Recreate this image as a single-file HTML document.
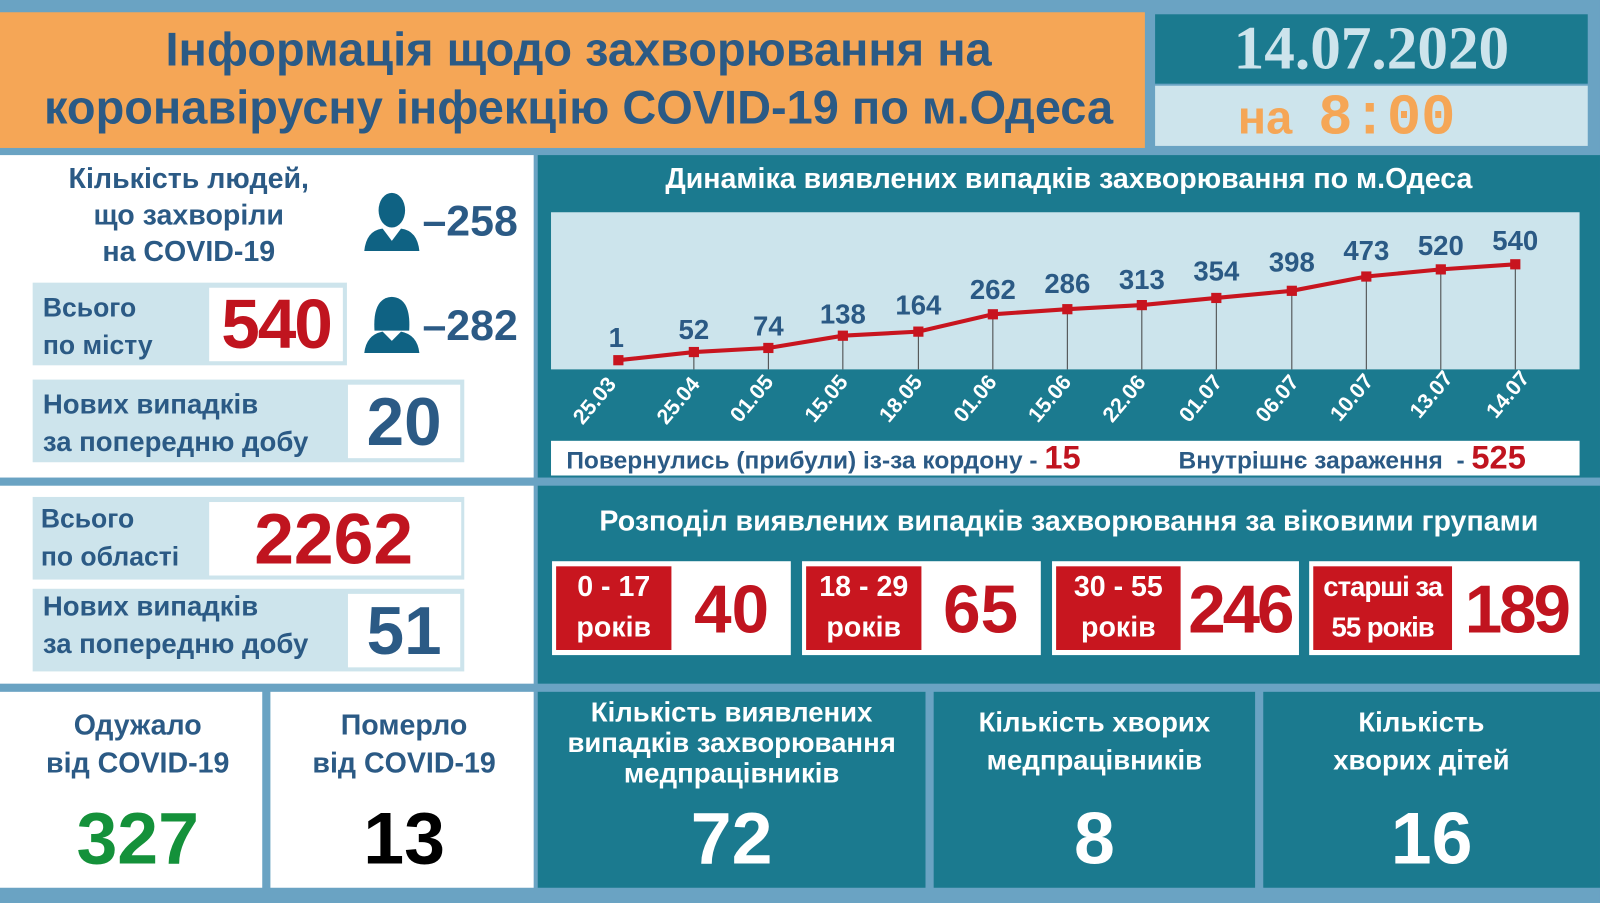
<!DOCTYPE html>
<html><head><meta charset="utf-8"><style>
html,body{margin:0;padding:0;width:1600px;height:903px;overflow:hidden;background:#6aa3c3}
#w{position:absolute;left:0;top:0;width:1568px;height:885px;transform:scale(1.0204);transform-origin:0 0;background:#6aa3c3;font-family:"Liberation Sans",sans-serif;font-weight:bold}
.a{position:absolute}
.c{text-align:center}
.dk{color:#2b5a85}
.wh{color:#fff}
.red{color:#c0141f}
.lb{background:#cde4ec}
.w{background:#fff}
.t{background:#1b7a8f}
</style></head><body><div id="w">
<div class="a" style="left:0;top:12px;width:1122px;height:133px;background:#f5a656"></div>
<div class="a c dk" style="left:0;top:20px;width:1134px;font-size:46px;line-height:57px">Інформація щодо захворювання на<br>коронавірусну інфекцію COVID-19 по м.Одеса</div>
<div class="a t" style="left:1132px;top:14px;width:424px;height:68px"></div>
<div class="a c" style="left:1132px;top:12px;width:424px;font-family:'Liberation Serif',serif;font-weight:bold;font-size:60px;line-height:70px;color:#cde4ec">14.07.2020</div>
<div class="a lb" style="left:1132px;top:84px;width:424px;height:59px"></div>
<div class="a" style="left:1213px;top:84px;font-size:46px;line-height:62px;color:#f5a656">на&nbsp;&nbsp;<span style="font-family:'Liberation Mono',monospace;font-size:56px">8:00</span></div>

<div class="a w" style="left:0;top:152px;width:523px;height:316px"></div>
<div class="a t" style="left:527px;top:152px;width:1041px;height:316px"></div>
<div class="a w" style="left:0;top:476px;width:523px;height:194px"></div>
<div class="a t" style="left:527px;top:476px;width:1041px;height:194px"></div>
<div class="a w" style="left:0;top:678px;width:257px;height:192px"></div>
<div class="a w" style="left:265px;top:678px;width:258px;height:192px"></div>
<div class="a t" style="left:527px;top:678px;width:380px;height:192px"></div>
<div class="a t" style="left:915px;top:678px;width:315px;height:192px"></div>
<div class="a t" style="left:1238px;top:678px;width:330px;height:192px"></div>

<div class="a c dk" style="left:30px;top:157px;width:310px;font-size:28px;line-height:36px">Кількість людей,<br>що захворіли<br>на COVID-19</div>
<svg class="a" style="left:355px;top:186px" width="58" height="62" viewBox="0 0 58 62"><ellipse cx="29" cy="20" rx="13" ry="17" fill="#0f6283"/><path d="M2 60 Q4 40 20 38 L29 50 L38 38 Q54 40 56 60 Z" fill="#0f6283"/></svg>
<svg class="a" style="left:355px;top:288px" width="58" height="60" viewBox="0 0 58 60"><path d="M12 36 Q10 4 29 3 Q48 4 46 36 Z" fill="#0f6283"/><path d="M2 58 Q4 40 20 37 L29 46 L38 37 Q54 40 56 58 Z" fill="#0f6283"/></svg>
<div class="a dk" style="left:414px;top:193px;font-size:42px">–258</div>
<div class="a dk" style="left:414px;top:295px;font-size:42px">–282</div>

<div class="a lb" style="left:32px;top:277px;width:308px;height:81px"></div>
<div class="a w" style="left:205px;top:282px;width:131px;height:72px"></div>
<div class="a dk" style="left:42px;top:283px;font-size:26px;line-height:37px">Всього<br>по місту</div>
<div class="a c red" style="left:205px;top:280px;width:131px;font-size:68px;line-height:76px;letter-spacing:-2px">540</div>

<div class="a lb" style="left:32px;top:372px;width:423px;height:81px"></div>
<div class="a w" style="left:341px;top:377px;width:110px;height:72px"></div>
<div class="a dk" style="left:42px;top:378px;font-size:27px;line-height:37px">Нових випадків<br>за попередню добу</div>
<div class="a c dk" style="left:341px;top:374px;width:110px;font-size:66px;line-height:78px">20</div>

<div class="a lb" style="left:32px;top:487px;width:423px;height:81px"></div>
<div class="a w" style="left:205px;top:492px;width:247px;height:72px"></div>
<div class="a dk" style="left:40px;top:490px;font-size:26px;line-height:37px">Всього<br>по області</div>
<div class="a c red" style="left:212px;top:490px;width:230px;font-size:70px;line-height:76px">2262</div>

<div class="a lb" style="left:32px;top:577px;width:423px;height:81px"></div>
<div class="a w" style="left:341px;top:582px;width:110px;height:72px"></div>
<div class="a dk" style="left:42px;top:576px;font-size:27px;line-height:37px">Нових випадків<br>за попередню добу</div>
<div class="a c dk" style="left:341px;top:579px;width:110px;font-size:66px;line-height:78px">51</div>

<div class="a c wh" style="left:527px;top:159px;width:1041px;font-size:28px">Динаміка виявлених випадків захворювання по м.Одеса</div>
<svg class="a" style="left:527px;top:200px" width="1041" height="270" viewBox="527 200 1041 270">
<rect x="540" y="208" width="1008" height="154" fill="#cce4ec"/>
<g stroke="#444" stroke-width="1">
<line x1="680" y1="345" x2="680" y2="362"/><line x1="753" y1="341" x2="753" y2="362"/><line x1="826" y1="329" x2="826" y2="362"/><line x1="900" y1="325" x2="900" y2="362"/><line x1="973" y1="308" x2="973" y2="362"/><line x1="1046" y1="303" x2="1046" y2="362"/><line x1="1119" y1="299" x2="1119" y2="362"/><line x1="1192" y1="292" x2="1192" y2="362"/><line x1="1266" y1="285" x2="1266" y2="362"/><line x1="1339" y1="271" x2="1339" y2="362"/><line x1="1412" y1="264" x2="1412" y2="362"/><line x1="1485" y1="259" x2="1485" y2="362"/>
</g>
<polyline fill="none" stroke="#c8151f" stroke-width="4" points="606,353 680,345 753,341 826,329 900,325 973,308 1046,303 1119,299 1192,292 1266,285 1339,271 1412,264 1485,259"/>
<g fill="#c8151f"><rect x="601" y="348" width="10" height="10"/><rect x="675" y="340" width="10" height="10"/><rect x="748" y="336" width="10" height="10"/><rect x="821" y="324" width="10" height="10"/><rect x="895" y="320" width="10" height="10"/><rect x="968" y="303" width="10" height="10"/><rect x="1041" y="298" width="10" height="10"/><rect x="1114" y="294" width="10" height="10"/><rect x="1187" y="287" width="10" height="10"/><rect x="1261" y="280" width="10" height="10"/><rect x="1334" y="266" width="10" height="10"/><rect x="1407" y="259" width="10" height="10"/><rect x="1480" y="254" width="10" height="10"/></g>
<g font-family="Liberation Sans,sans-serif" font-size="27" fill="#2b5a85" text-anchor="middle">
<text x="604" y="340">1</text><text x="680" y="332">52</text><text x="753" y="329">74</text><text x="826" y="317">138</text><text x="900" y="308">164</text><text x="973" y="293">262</text><text x="1046" y="287">286</text><text x="1119" y="283">313</text><text x="1192" y="275">354</text><text x="1266" y="266">398</text><text x="1339" y="255">473</text><text x="1412" y="250">520</text><text x="1485" y="245">540</text></g>
<g font-family="Liberation Sans,sans-serif" font-size="21" fill="#fff" text-anchor="middle">
<text transform="translate(588,397) rotate(-50)">25.03</text><text transform="translate(670,397) rotate(-50)">25.04</text><text transform="translate(742,395) rotate(-50)">01.05</text><text transform="translate(815,395) rotate(-50)">15.05</text><text transform="translate(888,395) rotate(-50)">18.05</text><text transform="translate(961,395) rotate(-50)">01.06</text><text transform="translate(1034,395) rotate(-50)">15.06</text><text transform="translate(1107,395) rotate(-50)">22.06</text><text transform="translate(1182,395) rotate(-50)">01.07</text><text transform="translate(1257,395) rotate(-50)">06.07</text><text transform="translate(1330,394) rotate(-50)">10.07</text><text transform="translate(1408,391) rotate(-50)">13.07</text><text transform="translate(1483,391) rotate(-50)">14.07</text></g>
<rect x="540" y="432" width="1008" height="34" fill="#fff"/>
</svg>
<div class="a dk" style="left:555px;top:431px;font-size:24px;line-height:34px">Повернулись (прибули) із-за кордону - <span class="red" style="font-size:32px">15</span></div>
<div class="a dk" style="left:1155px;top:431px;font-size:24px;line-height:34px">Внутрішнє зараження&nbsp; - <span class="red" style="font-size:32px">525</span></div>

<div class="a c wh" style="left:527px;top:495px;width:1041px;font-size:28px">Розподіл виявлених випадків захворювання за віковими групами</div>
<div class="a w" style="left:541px;top:550px;width:234px;height:92px"></div>
<div class="a w" style="left:786px;top:550px;width:234px;height:92px"></div>
<div class="a w" style="left:1031px;top:550px;width:242px;height:92px"></div>
<div class="a w" style="left:1283px;top:550px;width:265px;height:92px"></div>
<div class="a c wh" style="left:545px;top:555px;width:113px;height:82px;background:#c8161f;font-size:28px;line-height:40px">0 - 17<br>років</div>
<div class="a c wh" style="left:790px;top:555px;width:113px;height:82px;background:#c8161f;font-size:28px;line-height:40px">18 - 29<br>років</div>
<div class="a c wh" style="left:1035px;top:555px;width:122px;height:82px;background:#c8161f;font-size:28px;line-height:40px">30 - 55<br>років</div>
<div class="a c wh" style="left:1287px;top:555px;width:136px;height:82px;background:#c8161f;font-size:27px;line-height:40px;letter-spacing:-1px">старші за<br>55 років</div>
<div class="a c red" style="left:662px;top:557px;width:110px;font-size:66px;line-height:80px">40</div>
<div class="a c red" style="left:906px;top:557px;width:110px;font-size:66px;line-height:80px">65</div>
<div class="a c red" style="left:1156px;top:557px;width:118px;font-size:66px;line-height:80px;letter-spacing:-3px">246</div>
<div class="a c red" style="left:1424px;top:557px;width:124px;font-size:66px;line-height:80px;letter-spacing:-3px">189</div>

<div class="a c dk" style="left:0;top:692px;width:270px;font-size:28px;line-height:37px">Одужало<br>від COVID-19</div>
<div class="a c" style="left:0;top:782px;width:270px;font-size:72px;line-height:80px;color:#14913a">327</div>
<div class="a c dk" style="left:265px;top:692px;width:262px;font-size:28px;line-height:37px">Померло<br>від COVID-19</div>
<div class="a c" style="left:265px;top:782px;width:262px;font-size:72px;line-height:80px;color:#000">13</div>
<div class="a c wh" style="left:527px;top:683px;width:380px;font-size:27px;line-height:30px">Кількість виявлених<br>випадків захворювання<br>медпрацівників</div>
<div class="a c wh" style="left:527px;top:782px;width:380px;font-size:72px;line-height:80px">72</div>
<div class="a c wh" style="left:915px;top:690px;width:315px;font-size:27px;line-height:37px">Кількість хворих<br>медпрацівників</div>
<div class="a c wh" style="left:915px;top:782px;width:315px;font-size:72px;line-height:80px">8</div>
<div class="a c wh" style="left:1238px;top:690px;width:310px;font-size:27px;line-height:37px">Кількість<br>хворих дітей</div>
<div class="a c wh" style="left:1238px;top:782px;width:330px;font-size:72px;line-height:80px">16</div>
</div></body></html>
